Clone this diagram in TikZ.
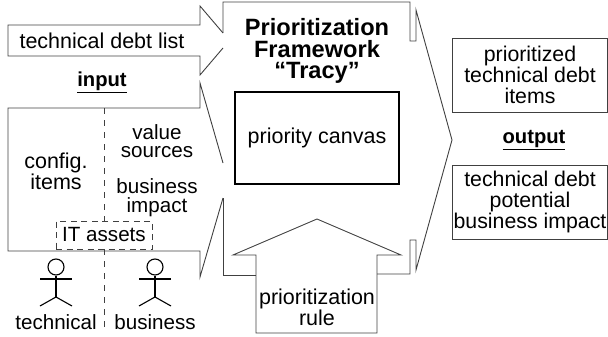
\documentclass[tikz,border=0pt]{standalone}
\usepackage{fontspec}
\setmainfont{Liberation Sans}
\usepackage{tikz}
\usetikzlibrary{positioning}

\tikzset{
	outline/.style={draw=black!75,line width=0.9pt,line join=miter},
	txt/.style={align=center,inner sep=0pt,font=\fontsize{21.5}{18}\selectfont},
	smalltxt/.style={align=center,inner sep=0pt,font=\fontsize{20.6}{18.6}\selectfont},
	title/.style={align=center,inner sep=0pt,font=\fontsize{23.6}{21.5}\selectfont\bfseries},
	head/.style={inner sep=0pt,font=\fontsize{20.2}{20}\selectfont\bfseries},
	itembox/.style={outline,align=center,inner sep=0pt,font=\fontsize{21.3}{21}\selectfont,minimum width=155pt,minimum height=74pt},
	canvasbox/.style={txt,draw=black,line width=2pt,minimum width=164pt,minimum height=92pt},
	dashbox/.style={smalltxt,draw=black!75,line width=0.8pt,dash pattern=on 6pt off 4.5pt,minimum width=96pt,minimum height=28pt},
	divider/.style={draw=black!75,line width=0.8pt,dash pattern=on 6pt off 6pt}
}

\begin{document}
\begin{tikzpicture}[x=1pt,y=-1pt]
	\useasboundingbox (0,0) rectangle (608,337);

	%% input arrows
	\draw[outline] (223,33) -- (200,6) -- (200,25) -- (8,25) -- (8,56) -- (200,56) -- (200,75) -- (223,48);
	\draw[outline] (223,163) -- (200,83) -- (200,108) -- (8,108) -- (8,251) -- (200,251) -- (200,277) -- (223,198);

	%% framework outline
	\draw[outline] (223,33) -- (223,2) -- (410,2) -- (410,41) -- (416,41) -- (416,10) -- (452,140) -- (416,270) -- (416,240) -- (410,240) -- (410,274) -- (377,274);
	\draw[outline] (223,198) -- (223,275) -- (256,275);

	%% rule arrow
	\draw[outline] (233,255) -- (317,219) -- (401,255) -- (377,255) -- (377,333) -- (256,333) -- (256,255) -- cycle;

	\node[txt] (debtlist) at (102,41) {technical debt list};
	\node[head] (input) at (102,82) {\underline{input}};
	\node[txt] (config) at (56,171) {config.\\items};
	\node[smalltxt] (value) at (157,141) {value\\sources};
	\node[smalltxt] (impact) at (157,197.5) {business\\impact};
	\node[dashbox] (assets) at (104,235) {IT assets};
	\node[title] (framework) at (317,51) {Prioritization\\Framework\\“Tracy”};
	\node[canvasbox] (canvas) at (317,138) {priority canvas};
	\node[txt] (rule) at (317,307) {prioritization\\rule};
	\node[itembox] (items) at (530,75) {prioritized\\technical debt\\items};
	\node[head] (output) at (534,140) {\underline{output}};
	\node[itembox] (potential) at (530,202) {technical debt\\potential\\business impact};
	\node[smalltxt] (technical) at (56,322) {technical};
	\node[smalltxt] (business) at (155,322) {business};

	%% dashed dividers
	\coordinate (divtop) at (104,108);
	\coordinate (divbottom) at (104,327);
	\draw[divider] (divtop) -- (assets.north -| divtop);
	\draw[divider] (assets.south -| divtop) -- (divbottom);

	%% actors
	\foreach \name/\xpos in {left/56,right/155} {
		\node[circle,draw=black,line width=1.1pt,minimum size=16pt,inner sep=0pt] (\name head) at (\xpos,267) {};
		\coordinate (\name hip) at (\xpos,297);
		\draw[black,line width=1.1pt] (\name head) -- (\name hip);
		\draw[black,line width=1.1pt] (\xpos-16,279) -- (\xpos+16,279);
		\draw[black,line width=1.1pt] (\xpos-16,306) -- (\name hip) -- (\xpos+16,306);
	}
\end{tikzpicture}
\end{document}
